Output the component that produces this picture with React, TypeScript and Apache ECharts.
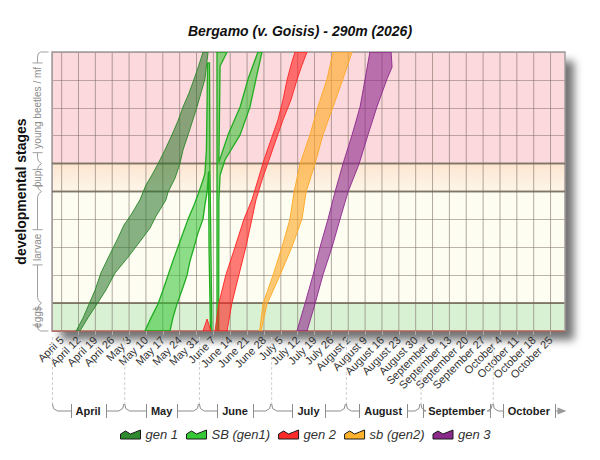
import React, { useEffect, useRef } from "react";
import * as echarts from "echarts";

const FONT = "'Liberation Sans', Arial, sans-serif";

// ---- axis domain (days after April 1, 2026; stage units) ----
const X_MIN = 0;
const X_MAX = 213;
const Y_MIN = 0;
const Y_MAX = 10;

// ---- weekly ticks ----
const weekDays = [4, 11, 18, 25, 32, 39, 46, 53, 60, 67, 74, 81, 88, 95, 102, 109, 116, 123, 130, 137, 144, 151, 158, 165, 172, 179, 186, 193, 200, 207];
const weekLabels = [
  "April 5", "April 12", "April 19", "April 26", "May 3", "May 10", "May 17", "May 24", "May 31",
  "June 7", "June 14", "June 21", "June 28", "July 5", "July 12", "July 19", "July 26",
  "August 2", "August 9", "August 16", "August 23", "August 30",
  "September 6", "September 13", "September 20", "September 27",
  "October 4", "October 11", "October 18", "October 25",
];

// ---- months ----
const monthNames = ["April", "May", "June", "July", "August", "September", "October"];
const monthStarts = [0, 30, 61, 91, 122, 153, 183];
const monthEnds = [30, 61, 91, 122, 153, 183, 213];

// ---- developmental stages ----
const stageNames = ["eggs", "larvae", "pup.", "young beetles / mf"];
const stageBounds = [0, 1, 5, 6, 10];
const stageDividers = [1, 5, 6];

// ---- generation bands: [day, stage] ----
const gen1Early = [[10.0, 0], [12.9, 0.47], [15.4, 0.97], [17.9, 1.47], [20.3, 2.08], [23.3, 2.62], [27.0, 3.26], [29.9, 3.8], [32.8, 4.16], [36.5, 4.7], [39.0, 5.23], [41.5, 5.59], [44.0, 5.99], [46.9, 6.49], [49.8, 7.03], [52.3, 7.53], [54.4, 8.03], [56.9, 8.53], [59.0, 9.03], [61.0, 9.53], [62.7, 10]];
const gen1Late = [[11.6, 0], [14.9, 0.47], [18.7, 0.97], [22.4, 1.47], [26.2, 2.08], [31.6, 2.65], [37.0, 3.26], [40.7, 3.69], [43.2, 4.12], [44.8, 4.34], [47.3, 4.7], [48.2, 4.98], [51.1, 5.48], [53.1, 5.99], [54.4, 6.49], [56.5, 7.03], [60.2, 8.03], [63.5, 9.03], [64.8, 10]];

const sbGen1OutlineA = [[38.6, 0], [41.1, 0.47], [44.0, 0.97], [46.1, 1.47], [48.2, 2.01], [50.2, 2.51], [52.3, 3.01], [54.4, 3.51], [56.5, 4.01], [59.0, 4.52], [61.0, 4.98], [62.7, 5.41], [63.5, 5.66], [64.1, 6.49], [64.4, 8.28], [64.6, 9.61], [65.4, 9.61], [65.6, 5.77], [66.0, 2.9], [66.4, 0], [65.8, 0], [65.2, 2.9], [65.0, 5.7], [64.4, 4.98], [63.5, 4.52], [62.7, 4.01], [60.6, 3.51], [59.0, 3.01], [57.3, 2.51], [56.1, 2.01], [54.0, 1.47], [51.9, 0.97], [50.2, 0.47], [49.0, 0]];
const sbGen1OutlineB = [[68.5, 0], [68.5, 10], [72.7, 10], [69.8, 9.5], [69.3, 6.06], [73.1, 7.03], [78.1, 8.03], [81.4, 9.03], [85.5, 10], [87.2, 10], [84.7, 9.03], [82.2, 8.03], [78.1, 7.03], [71.8, 6.13], [69.8, 5.59], [69.3, 4.7], [69.2, 0]];

const gen2Early = [[67.7, 0], [69.3, 1.0], [72.2, 2.01], [76.0, 3.01], [79.7, 4.01], [83.0, 4.7], [85.5, 5.41], [88.0, 6.13], [90.9, 6.85], [93.8, 7.56], [95.9, 8.28], [97.6, 9.0], [99.6, 9.64], [100.9, 10]];
const gen2Late = [[72.7, 0], [74.7, 1.0], [77.6, 2.01], [80.5, 3.01], [83.0, 4.01], [84.7, 4.7], [87.2, 5.41], [90.1, 6.13], [93.0, 6.85], [95.9, 7.56], [99.2, 8.28], [101.7, 9.0], [103.8, 9.53], [105.9, 10]];
const gen2Spike = [[62.7, 0], [64.4, 0.43], [66.0, 0]];

const sbGen2Early = [[86.2, 0], [87.6, 0.97], [91.8, 2.01], [95.5, 3.01], [98.8, 4.01], [100.5, 4.98], [103.0, 5.99], [107.1, 7.03], [110.4, 8.03], [114.2, 9.03], [116.7, 10]];
const sbGen2Late = [[86.8, 0], [89.3, 0.97], [94.7, 2.01], [99.6, 3.01], [103.8, 4.01], [105.5, 4.98], [109.2, 5.99], [112.5, 7.03], [116.7, 8.03], [120.8, 9.03], [124.6, 10]];

const gen3Early = [[101.7, 0], [105.0, 0.97], [108.4, 2.01], [111.3, 3.01], [114.6, 4.01], [117.5, 4.98], [120.8, 5.99], [124.6, 7.03], [127.9, 8.03], [130.0, 9.03], [132.0, 10]];
const gen3Late = [[105.9, 0], [109.2, 0.97], [112.5, 2.01], [116.3, 3.01], [119.6, 4.01], [122.9, 4.98], [127.5, 5.99], [131.2, 7.03], [134.9, 8.03], [139.1, 9.03], [141.2, 9.46], [140.8, 10]];

const legendNames = ["gen 1", "SB (gen1)", "gen 2", "sb (gen2)", "gen 3"];

// ---- styles ----
const stageFills: any[] = [
  "#d9f1d3",
  "#fdfdf1",
  new echarts.graphic.LinearGradient(0, 0, 0, 1, [
    { offset: 0, color: "#fde6d1" },
    { offset: 1, color: "#fdf5e9" },
  ]),
  "#fcd9dc",
];
const legendColors = ["#2f8a2f", "#35c935", "#ff2a2a", "#ffb22a", "#8c2a8c"];
const LEGEND_ICON = "path://M0,10 L0,5 L5,2 L10,5 L15,3 L20,1 L20,10 Z";

const measureCtx = typeof document !== "undefined" ? document.createElement("canvas").getContext("2d") : null;
function measure(text: string, font: string): number {
  if (!measureCtx) return text.length * 6;
  measureCtx.font = font;
  return measureCtx.measureText(text).width;
}

const band = (early: number[][], late: number[][]) => early.concat(late.slice().reverse());

function polySeries(name: string, pts: number[][], fill: string, stroke: string, lw = 1) {
  return {
    type: "custom",
    name,
    coordinateSystem: "cartesian2d",
    z: 2,
    clip: true,
    silent: true,
    data: pts,
    renderItem: (params: any, api: any) => {
      if (params.dataIndex !== 0) return null;
      const points = pts.map((p) => api.coord(p));
      return {
        type: "polygon",
        shape: { points },
        style: { fill, stroke, lineWidth: lw, lineJoin: "round" },
      };
    },
  };
}

function buildOption(): any {
  const lineStyle = { stroke: "#8c8c8c", lineWidth: 1, fill: null };
  return {
    animation: false,
    backgroundColor: "#ffffff",
    title: {
      text: "Bergamo (v. Goisis) - 290m (2026)",
      left: "center",
      top: 24,
      padding: [0, 0, 0, 18],
      textStyle: { fontSize: 14, fontWeight: "bold", fontStyle: "italic", color: "#111", fontFamily: FONT },
    },
    legend: {
      left: 115,
      top: 423,
      itemGap: 8,
      itemWidth: 20,
      itemHeight: 11,
      selectedMode: false,
      textStyle: { fontStyle: "italic", fontSize: 13, color: "#333", fontFamily: FONT },
      data: legendNames.map((n, i) => ({
        name: n,
        icon: LEGEND_ICON,
        itemStyle: { color: legendColors[i], borderColor: "#1a1a1a", borderWidth: 1 },
      })),
    },
    grid: {
      left: 52,
      right: 35,
      top: 52,
      bottom: 129,
      show: true,
      z: -5,
      backgroundColor: "#ffffff",
      borderWidth: 0,
      shadowColor: "rgba(0,0,0,0.55)",
      shadowBlur: 9,
      shadowOffsetX: 9,
      shadowOffsetY: 9,
    },
    xAxis: {
      type: "value",
      min: X_MIN,
      max: X_MAX,
      axisLine: { show: true, lineStyle: { color: "#b06058", width: 1.5 } },
      axisTick: { show: true, customValues: weekDays, length: 4, lineStyle: { color: "#aaa" } },
      splitLine: { show: false },
      axisLabel: {
        customValues: weekDays,
        rotate: 45,
        margin: 7,
        fontSize: 11,
        color: "#333",
        fontFamily: FONT,
        formatter: (v: number) => {
          const idx = weekDays.indexOf(Math.round(v));
          return idx >= 0 ? weekLabels[idx] : "";
        },
      },
    },
    yAxis: {
      type: "value",
      min: Y_MIN,
      max: Y_MAX,
      interval: 1,
      name: "developmental stages",
      nameLocation: "middle",
      nameGap: 24,
      nameTextStyle: { fontSize: 14, fontWeight: "bold", color: "#111", fontFamily: FONT },
      axisLine: { show: true, lineStyle: { color: "#b8aeae", width: 1 } },
      axisTick: { show: false },
      axisLabel: { show: false },
      splitLine: { show: true, lineStyle: { color: "rgba(125,108,98,0.5)", width: 1 } },
    },
    series: [
      // stage bands (background)
      {
        type: "custom",
        z: -1,
        silent: true,
        clip: false,
        data: stageNames.map((_, i) => [stageBounds[i], stageBounds[i + 1]]),
        renderItem: (params: any, api: any) => {
          const p0 = api.coord([X_MIN, api.value(1)]);
          const p1 = api.coord([X_MAX, api.value(0)]);
          return {
            type: "rect",
            shape: { x: p0[0], y: p0[1], width: p1[0] - p0[0], height: p1[1] - p0[1] },
            style: { fill: stageFills[params.dataIndex] },
          };
        },
      },
      // weekly vertical grid lines
      {
        type: "custom",
        z: -0.6,
        silent: true,
        data: weekDays.map((d) => [d]),
        renderItem: (params: any, api: any) => {
          const a = api.coord([api.value(0), Y_MIN]);
          const b = api.coord([api.value(0), Y_MAX]);
          return {
            type: "line",
            shape: { x1: a[0], y1: a[1], x2: b[0], y2: b[1] },
            style: { stroke: "rgba(115,100,92,0.55)", lineWidth: 1 },
          };
        },
      },
      // stage dividers + frame
      {
        type: "custom",
        z: 0.5,
        silent: true,
        clip: false,
        data: stageDividers.map((s) => [s]),
        renderItem: (params: any, api: any) => {
          const a = api.coord([X_MIN, api.value(0)]);
          const b = api.coord([X_MAX, api.value(0)]);
          const children: any[] = [
            {
              type: "line",
              shape: { x1: a[0], y1: a[1], x2: b[0], y2: b[1] },
              style: { stroke: "rgba(112,104,88,0.8)", lineWidth: 2 },
            },
          ];
          if (params.dataIndex === 0) {
            const tl = api.coord([X_MIN, Y_MAX]);
            const br = api.coord([X_MAX, Y_MIN]);
            children.push({
              type: "polyline",
              shape: { points: [[tl[0], br[1]], [tl[0], tl[1]], [br[0], tl[1]], [br[0], br[1]]] },
              style: { stroke: "#a39c9c", lineWidth: 1.5, fill: null },
            });
          }
          return { type: "group", children };
        },
      },
      // generation bands
      polySeries("gen 1", band(gen1Early, gen1Late), "rgba(40,115,40,0.55)", "rgba(40,135,40,0.9)"),
      polySeries("SB (gen1)", sbGen1OutlineA, "rgba(50,195,50,0.55)", "rgba(25,170,25,0.95)", 1.3),
      polySeries("SB (gen1)", sbGen1OutlineB, "rgba(50,195,50,0.55)", "rgba(25,170,25,0.95)", 1.3),
      polySeries("gen 2", band(gen2Early, gen2Late), "rgba(255,35,35,0.6)", "rgba(255,40,40,0.95)"),
      polySeries("gen 2", gen2Spike, "rgba(255,35,35,0.6)", "rgba(255,40,40,0.95)"),
      polySeries("sb (gen2)", band(sbGen2Early, sbGen2Late), "rgba(255,170,40,0.62)", "rgba(255,170,40,0.95)"),
      polySeries("gen 3", band(gen3Early, gen3Late), "rgba(140,40,140,0.6)", "rgba(140,40,140,0.9)"),
      // month brackets under the axis
      {
        type: "custom",
        z: 3,
        silent: true,
        clip: false,
        data: monthNames.map((_, i) => [monthStarts[i], monthEnds[i]]),
        renderItem: (params: any, api: any) => {
          const i = params.dataIndex;
          const s = api.coord([api.value(0), Y_MIN]);
          const e = api.coord([api.value(1), Y_MIN]);
          const x0 = s[0] + 0.5;
          const x1 = e[0] - 0.5;
          const ay = s[1];
          const yb = ay + 80;
          const name = monthNames[i];
          const tw = measure(name, `bold 11px ${FONT}`);
          const cx = (s[0] + e[0]) / 2;
          const tL = Math.round(cx - tw / 2 - 5) + 0.5;
          const tR = Math.round(cx + tw / 2 + 5) + 0.5;
          const last = i === monthNames.length - 1;
          const children: any[] = [
            {
              type: "line",
              shape: { x1: x0, y1: ay + 6, x2: x0, y2: yb - 7 },
              style: { stroke: "#cfcfcf", lineWidth: 1, lineDash: [3, 2] },
            },
            {
              type: "polyline",
              shape: { points: [[x0, yb - 7], [x0 + 1, yb - 2.5], [x0 + 5, yb], [tL, yb]] },
              style: lineStyle,
            },
            { type: "line", shape: { x1: tL, y1: yb - 7, x2: tL, y2: yb + 7 }, style: lineStyle },
            { type: "line", shape: { x1: tR, y1: yb - 7, x2: tR, y2: yb + 7 }, style: lineStyle },
            {
              type: "text",
              style: {
                text: name,
                x: cx,
                y: yb,
                align: "center",
                verticalAlign: "middle",
                fontSize: 11,
                fontWeight: "bold",
                fontFamily: FONT,
                fill: "#222",
              },
            },
          ];
          if (last) {
            children.push({ type: "line", shape: { x1: tR, y1: yb, x2: x1 - 6, y2: yb }, style: lineStyle });
            children.push({
              type: "polygon",
              shape: { points: [[x1 - 7, yb - 3.5], [x1 + 2, yb], [x1 - 7, yb + 3.5]] },
              style: { fill: "#9a9a9a" },
            });
          } else {
            children.push({
              type: "polyline",
              shape: { points: [[tR, yb], [x1 - 5, yb], [x1 - 1, yb - 2.5], [x1, yb - 7]] },
              style: lineStyle,
            });
          }
          return { type: "group", children };
        },
      },
      // stage brackets on the left
      {
        type: "custom",
        z: 3,
        silent: true,
        clip: false,
        data: stageNames.map((_, i) => [stageBounds[i], stageBounds[i + 1]]),
        renderItem: (params: any, api: any) => {
          const i = params.dataIndex;
          const b = api.coord([X_MIN, api.value(0)]);
          const t = api.coord([X_MIN, api.value(1)]);
          const xL = Math.round(b[0] - 15) + 0.5;
          const y0 = b[1];
          const y1 = t[1];
          const cy = (y0 + y1) / 2;
          const name = stageNames[i];
          const th = measure(name, `10px ${FONT}`);
          const tT = Math.max(cy - th / 2 - 4, y1 + 6);
          const tB = Math.min(cy + th / 2 + 4, y0 - 6);
          const top = i === stageNames.length - 1;
          const bottom = i === 0;
          const ls = { stroke: "#a0a0a0", lineWidth: 1, fill: null };
          const topPts = top
            ? [[xL + 11, y1], [xL + 3, y1], [xL + 0.5, y1 + 2], [xL, y1 + 6], [xL, tT]]
            : [[xL + 4, y1], [xL + 1, y1 + 2.5], [xL, y1 + 6], [xL, tT]];
          const botPts = bottom
            ? [[xL, tB], [xL, y0 - 6], [xL + 0.5, y0 - 2], [xL + 3, y0], [xL + 11, y0]]
            : [[xL, tB], [xL, y0 - 6], [xL + 1, y0 - 2.5], [xL + 4, y0]];
          return {
            type: "group",
            children: [
              { type: "polyline", shape: { points: topPts }, style: ls },
              { type: "polyline", shape: { points: botPts }, style: ls },
              { type: "line", shape: { x1: xL - 5, y1: tT, x2: xL + 5, y2: tT }, style: ls },
              { type: "line", shape: { x1: xL - 5, y1: tB, x2: xL + 5, y2: tB }, style: ls },
              {
                type: "text",
                x: xL,
                y: cy,
                rotation: Math.PI / 2,
                style: {
                  text: name,
                  x: 0,
                  y: 0,
                  align: "center",
                  verticalAlign: "middle",
                  fontSize: 10,
                  fontFamily: FONT,
                  fill: "#8a8a8a",
                },
              },
            ],
          };
        },
      },
    ],
  };
}

export default function App() {
  const ref = useRef<HTMLDivElement>(null);
  useEffect(() => {
    if (!ref.current) return;
    const chart = echarts.init(ref.current, null, { renderer: "svg" });
    chart.setOption(buildOption());
    return () => chart.dispose();
  }, []);
  return (
    <div
      ref={ref}
      style={{ position: "fixed", left: 0, top: 0, width: 600, height: 460, background: "#fff" }}
    />
  );
}
